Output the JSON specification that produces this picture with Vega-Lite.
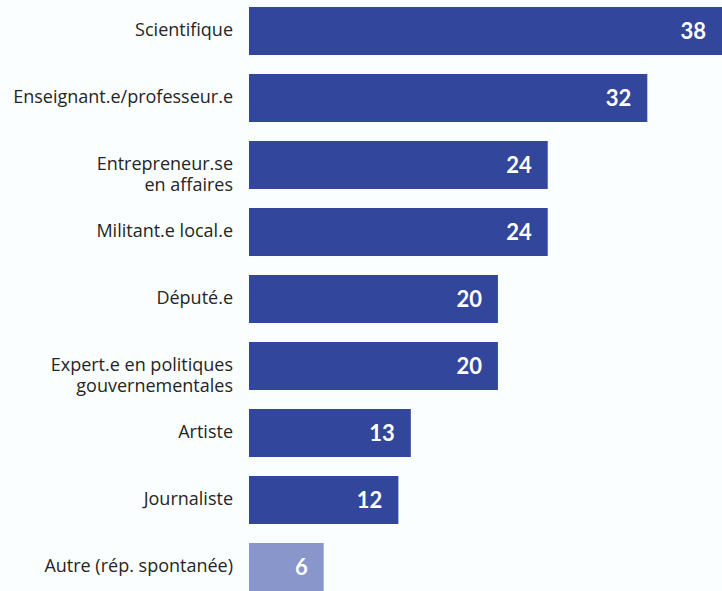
{
  "$schema": "https://vega.github.io/schema/vega-lite/v6.json",
  "autosize": {"type": "none"},
  "width": 473,
  "height": 584,
  "padding": {"left": 249, "top": 7, "right": 0, "bottom": 0},
  "background": "#fbfefe",
  "config": {"view": {"stroke": null}, "font": "Open Sans"},
  "data": {
    "values": [
      {"role": "Scientifique", "label": "Scientifique", "value": 38, "group": "main"},
      {"role": "Enseignant.e/professeur.e", "label": "Enseignant.e/professeur.e", "value": 32, "group": "main"},
      {"role": "Entrepreneur.se en affaires", "label": "Entrepreneur.se\nen affaires", "value": 24, "group": "main"},
      {"role": "Militant.e local.e", "label": "Militant.e local.e", "value": 24, "group": "main"},
      {"role": "Député.e", "label": "Député.e", "value": 20, "group": "main"},
      {"role": "Expert.e en politiques gouvernementales", "label": "Expert.e en politiques\ngouvernementales", "value": 20, "group": "main"},
      {"role": "Artiste", "label": "Artiste", "value": 13, "group": "main"},
      {"role": "Journaliste", "label": "Journaliste", "value": 12, "group": "main"},
      {"role": "Autre (rép. spontanée)", "label": "Autre (rép. spontanée)", "value": 6, "group": "other"}
    ]
  },
  "encoding": {
    "y": {
      "field": "role",
      "type": "nominal",
      "sort": null,
      "axis": null,
      "scale": {"paddingInner": 0.2836, "paddingOuter": 0}
    }
  },
  "layer": [
    {
      "mark": {"type": "bar"},
      "encoding": {
        "x": {"field": "value", "type": "quantitative", "axis": null, "scale": {"domain": [0, 38], "nice": false}},
        "color": {
          "field": "group",
          "type": "nominal",
          "legend": null,
          "scale": {"domain": ["main", "other"], "range": ["#32469c", "#8896cc"]}
        }
      }
    },
    {
      "mark": {"type": "text", "align": "right", "baseline": "middle", "dx": -16, "dy": 1, "color": "#ffffff", "fontSize": 22, "fontWeight": "bold", "font": "Lato"},
      "encoding": {
        "x": {"field": "value", "type": "quantitative"},
        "text": {"field": "value", "type": "quantitative"}
      }
    },
    {
      "mark": {"type": "text", "align": "right", "baseline": "middle", "dx": -16, "color": "#252525", "fontSize": 18, "lineBreak": "\n", "lineHeight": 21},
      "encoding": {
        "x": {"datum": 0},
        "text": {"field": "label"}
      }
    }
  ]
}
